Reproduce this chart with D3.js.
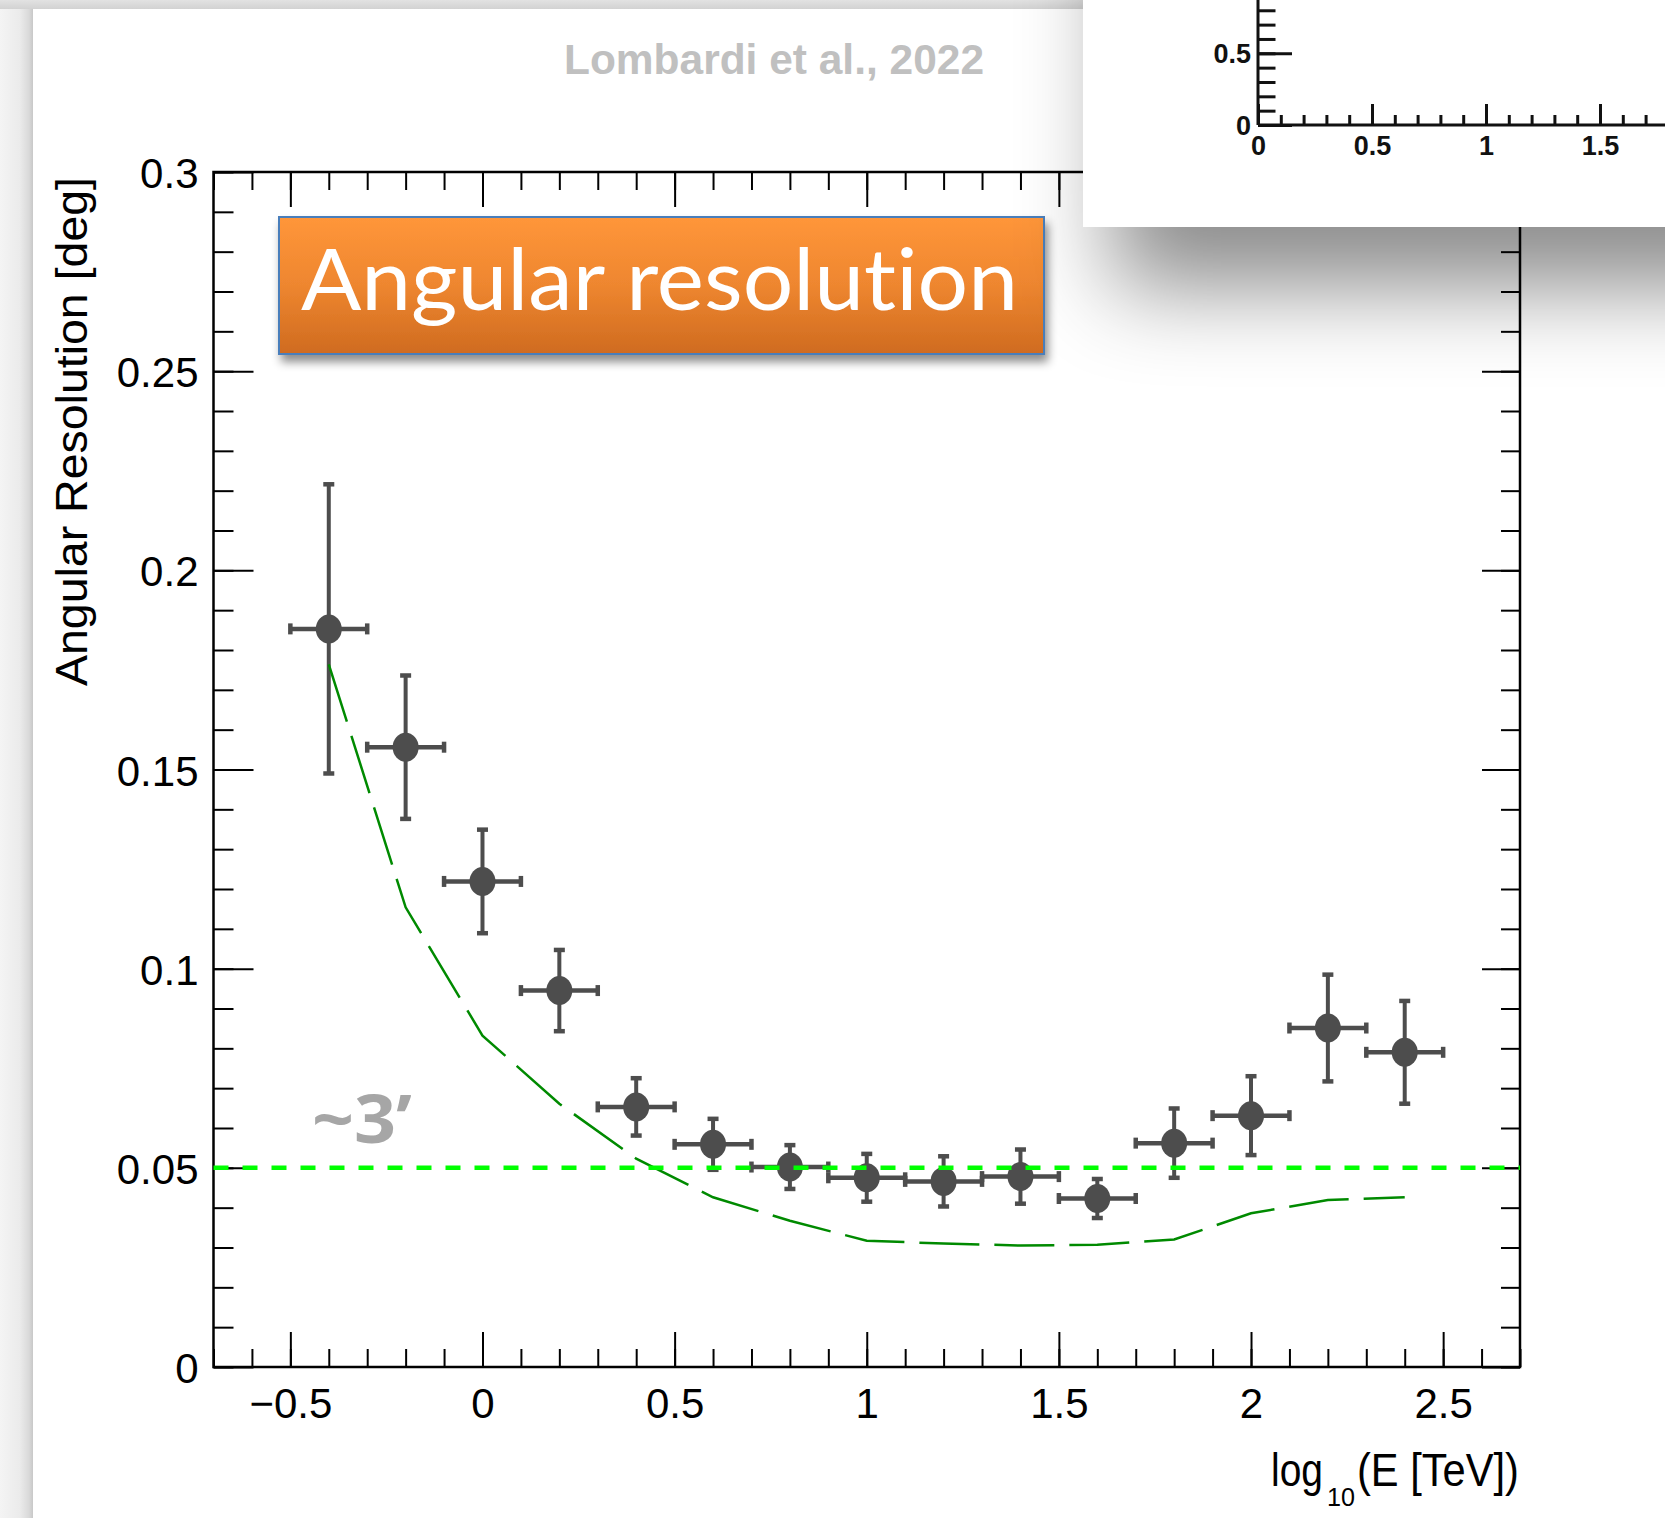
<!DOCTYPE html>
<html>
<head>
<meta charset="utf-8">
<script src="https://cdn.jsdelivr.net/npm/d3@7"></script>
<style>
  html, body { margin: 0; padding: 0; background: #fff; }
  svg { display: block; }
  .axis path.domain { display: none; }
  .axis line { stroke: #000; stroke-width: 2px; }
  .axis text { font-family: "Liberation Sans", Arial, sans-serif; fill: #000; }
  .inset .axis line { stroke: #111; stroke-width: 3px; }
  .inset .axis text { font-weight: bold; fill: #111; }
</style>
</head>
<body>
<div id="chart"></div>
<script>
//////////
// DATA //
//////////

// log10(E [TeV]) bin centres and half width
var energyBins = [-0.4, -0.2, 0, 0.2, 0.4, 0.6, 0.8, 1.0, 1.2, 1.4, 1.6, 1.8, 2.0, 2.2, 2.4];
var binHalfWidth = 0.1;

// measured angular resolution [deg] and its error
var angRes    = [0.1853, 0.1556, 0.1219, 0.0945, 0.0653, 0.0559, 0.0502, 0.0475, 0.0466, 0.0478, 0.0423, 0.0562, 0.0631, 0.0851, 0.0790];
var angResErr = [0.0363, 0.0180, 0.0130, 0.0102, 0.0072, 0.0064, 0.0055, 0.0060, 0.0063, 0.0068, 0.0049, 0.0087, 0.0099, 0.0134, 0.0129];

// dashed green reference curve
var refCurve = [0.1764, 0.1154, 0.0832, 0.0661, 0.0523, 0.0426, 0.0367, 0.0317, 0.0310, 0.0305, 0.0307, 0.0320, 0.0386, 0.0419, 0.0426];

// ~3 arcmin level
var threshold = 0.05;

var xMajorTicks = [-0.5, 0, 0.5, 1, 1.5, 2, 2.5];
var yMajorTicks = [0, 0.05, 0.1, 0.15, 0.2, 0.25, 0.3];

// the cut off plot pasted on top right
var insetXTicks = [0, 0.5, 1, 1.5];
var insetYTicks = [0, 0.5];

//////////////////////
// SVG AND GEOMETRY //
//////////////////////

var svgWidth = 1665, svgHeight = 1518;
var frame = { left: 213.5, right: 1520, top: 172, bottom: 1367 };

var svg = d3.select("#chart")
  .append("svg")
  .attr("width", svgWidth)
  .attr("height", svgHeight);

var defs = svg.append("defs");

var stripGrad = defs.append("linearGradient").attr("id", "stripGrad")
  .attr("x1", 0).attr("x2", 1).attr("y1", 0).attr("y2", 0);
stripGrad.append("stop").attr("offset", "0").attr("stop-color", "#f4f4f4");
stripGrad.append("stop").attr("offset", "0.6").attr("stop-color", "#ebebeb");
stripGrad.append("stop").attr("offset", "0.88").attr("stop-color", "#d9d9d9");
stripGrad.append("stop").attr("offset", "1").attr("stop-color", "#c8c8c8");

var topGrad = defs.append("linearGradient").attr("id", "topGrad")
  .attr("x1", 0).attr("x2", 0).attr("y1", 0).attr("y2", 1);
topGrad.append("stop").attr("offset", "0").attr("stop-color", "#e2e2e2");
topGrad.append("stop").attr("offset", "1").attr("stop-color", "#d2d2d2");

var boxGrad = defs.append("linearGradient").attr("id", "boxGrad")
  .attr("x1", 0).attr("x2", 0).attr("y1", 0).attr("y2", 1);
boxGrad.append("stop").attr("offset", "0").attr("stop-color", "#ff963a");
boxGrad.append("stop").attr("offset", "0.5").attr("stop-color", "#ee862f");
boxGrad.append("stop").attr("offset", "1").attr("stop-color", "#cf6b20");

defs.append("filter").attr("id", "boxShadow")
  .attr("x", "-10%").attr("y", "-20%").attr("width", "120%").attr("height", "150%")
  .append("feDropShadow")
  .attr("dx", 3).attr("dy", 7).attr("stdDeviation", 5)
  .attr("flood-color", "#000").attr("flood-opacity", 0.45);

defs.append("filter").attr("id", "insetShadow")
  .attr("filterUnits", "userSpaceOnUse")
  .attr("x", 800).attr("y", -200).attr("width", 1200).attr("height", 700)
  .append("feDropShadow")
  .attr("dx", 30).attr("dy", 60).attr("stdDeviation", 45)
  .attr("flood-color", "#000").attr("flood-opacity", 0.45);

////////////////
// BACKGROUND //
////////////////

svg.append("rect").attr("x", 0).attr("y", 0)
  .attr("width", svgWidth).attr("height", svgHeight).attr("fill", "#ffffff");
svg.append("rect").attr("x", 0).attr("y", 0)
  .attr("width", 33).attr("height", svgHeight).attr("fill", "url(#stripGrad)");
svg.append("rect").attr("x", 0).attr("y", 0)
  .attr("width", svgWidth).attr("height", 9).attr("fill", "url(#topGrad)");

svg.append("text")
  .attr("x", 564).attr("y", 74)
  .attr("textLength", 420).attr("lengthAdjust", "spacingAndGlyphs")
  .style("font-family", "'Liberation Sans', Arial, sans-serif")
  .style("font-weight", "bold").style("font-size", "43px")
  .style("fill", "#c0c0c0")
  .text("Lombardi et al., 2022");

//////////
// AXES //
//////////

var x = d3.scaleLinear().domain([-0.7, 2.7]).range([frame.left, frame.right]);
var y = d3.scaleLinear().domain([0, 0.3]).range([frame.bottom, frame.top]);

var xMinor = d3.range(-7, 28).map(function (i) { return i / 10; });
var yMinor = d3.range(0, 31).map(function (i) { return i / 100; });
var fmt = d3.format("~g");

var axes = svg.append("g").attr("class", "axes");

// minor ticks on all four sides
axes.append("g").attr("class", "axis")
  .attr("transform", "translate(" + frame.left + ",0)")
  .call(d3.axisLeft(y).tickValues(yMinor).tickSize(-20).tickSizeOuter(0).tickFormat(""));
axes.append("g").attr("class", "axis")
  .attr("transform", "translate(" + frame.right + ",0)")
  .call(d3.axisRight(y).tickValues(yMinor).tickSize(-19).tickSizeOuter(0).tickFormat(""));
axes.append("g").attr("class", "axis")
  .attr("transform", "translate(0," + frame.bottom + ")")
  .call(d3.axisBottom(x).tickValues(xMinor).tickSize(-18).tickSizeOuter(0).tickFormat(""));
axes.append("g").attr("class", "axis")
  .attr("transform", "translate(0," + frame.top + ")")
  .call(d3.axisTop(x).tickValues(xMinor).tickSize(-18).tickSizeOuter(0).tickFormat(""));

// major ticks with labels
var yAxis = axes.append("g").attr("class", "axis")
  .attr("transform", "translate(" + frame.left + ",0)")
  .call(d3.axisLeft(y).tickValues(yMajorTicks).tickSize(-40).tickSizeOuter(0)
    .tickPadding(15).tickFormat(fmt));
yAxis.selectAll("text").style("font-size", "42px").attr("dy", "0.37em");

axes.append("g").attr("class", "axis")
  .attr("transform", "translate(" + frame.right + ",0)")
  .call(d3.axisRight(y).tickValues(yMajorTicks).tickSize(-38).tickSizeOuter(0).tickFormat(""));

var xAxis = axes.append("g").attr("class", "axis")
  .attr("transform", "translate(0," + frame.bottom + ")")
  .call(d3.axisBottom(x).tickValues(xMajorTicks).tickSize(-35).tickSizeOuter(0)
    .tickPadding(21).tickFormat(fmt));
xAxis.selectAll("text").style("font-size", "42px");

axes.append("g").attr("class", "axis")
  .attr("transform", "translate(0," + frame.top + ")")
  .call(d3.axisTop(x).tickValues(xMajorTicks).tickSize(-35).tickSizeOuter(0).tickFormat(""));

svg.append("rect")
  .attr("x", frame.left).attr("y", frame.top)
  .attr("width", frame.right - frame.left).attr("height", frame.bottom - frame.top)
  .attr("fill", "none").attr("stroke", "#000").attr("stroke-width", 2.5);

//////////
// DATA //
//////////

var points = energyBins.map(function (e, i) {
  return { e: e, v: angRes[i], err: angResErr[i], ref: refCurve[i] };
});

var markColor = "#4d4d4d";
var gPts = svg.append("g").attr("class", "points");

// vertical error bars
gPts.selectAll(".vbar").data(points).enter().append("line")
  .attr("x1", function (d) { return x(d.e); })
  .attr("x2", function (d) { return x(d.e); })
  .attr("y1", function (d) { return y(d.v - d.err); })
  .attr("y2", function (d) { return y(d.v + d.err); })
  .attr("stroke", markColor).attr("stroke-width", 4);

// horizontal bin bars
gPts.selectAll(".hbar").data(points).enter().append("line")
  .attr("x1", function (d) { return x(d.e - binHalfWidth); })
  .attr("x2", function (d) { return x(d.e + binHalfWidth); })
  .attr("y1", function (d) { return y(d.v); })
  .attr("y2", function (d) { return y(d.v); })
  .attr("stroke", markColor).attr("stroke-width", 4.5);

// end caps
points.forEach(function (d) {
  [d.v - d.err, d.v + d.err].forEach(function (val) {
    gPts.append("rect")
      .attr("x", x(d.e) - 5.5).attr("y", y(val) - 2.25)
      .attr("width", 11).attr("height", 4.5).attr("fill", markColor);
  });
  [d.e - binHalfWidth, d.e + binHalfWidth].forEach(function (val) {
    gPts.append("rect")
      .attr("x", x(val) - 2.25).attr("y", y(d.v) - 5.5)
      .attr("width", 4.5).attr("height", 11).attr("fill", markColor);
  });
});

gPts.selectAll(".mark").data(points).enter().append("ellipse")
  .attr("cx", function (d) { return x(d.e); })
  .attr("cy", function (d) { return y(d.v); })
  .attr("rx", 13).attr("ry", 14.5)
  .attr("fill", markColor);

// reference curve
var line = d3.line()
  .x(function (d) { return x(d.e); })
  .y(function (d) { return y(d.ref); });

svg.append("path")
  .datum(points)
  .attr("d", line)
  .attr("fill", "none")
  .attr("stroke", "#008a00")
  .attr("stroke-width", 2.5)
  .attr("stroke-dasharray", "60,15");

// 0.05 deg level
svg.append("line")
  .attr("x1", x(-0.7)).attr("x2", x(2.7))
  .attr("y1", y(threshold)).attr("y2", y(threshold))
  .attr("stroke", "#00ff00")
  .attr("stroke-width", 4.5)
  .attr("stroke-dasharray", "15,14");

svg.append("text")
  .attr("x", 312).attr("y", 1143)
  .attr("textLength", 100).attr("lengthAdjust", "spacingAndGlyphs")
  .style("font-family", "'Open Sans', Lato, sans-serif")
  .style("font-weight", "bold").style("font-size", "66px")
  .style("fill", "#a6a6a6")
  .text("~3\u2019");

/////////////////
// AXIS TITLES //
/////////////////

svg.append("text")
  .attr("transform", "translate(87,177) rotate(-90)")
  .attr("text-anchor", "end")
  .attr("textLength", 509).attr("lengthAdjust", "spacingAndGlyphs")
  .style("font-family", "'Liberation Sans', Arial, sans-serif")
  .style("font-size", "44px")
  .text("Angular Resolution [deg]");

var xt = svg.append("g")
  .style("font-family", "'Liberation Sans', Arial, sans-serif");
xt.append("text")
  .attr("x", 1323).attr("y", 1486).attr("text-anchor", "end")
  .attr("textLength", 52).attr("lengthAdjust", "spacingAndGlyphs")
  .style("font-size", "46px").text("log");
xt.append("text")
  .attr("x", 1327).attr("y", 1506)
  .attr("textLength", 28).attr("lengthAdjust", "spacingAndGlyphs")
  .style("font-size", "26px").text("10");
xt.append("text")
  .attr("x", 1519).attr("y", 1486).attr("text-anchor", "end")
  .attr("textLength", 162).attr("lengthAdjust", "spacingAndGlyphs")
  .style("font-size", "46px").text("(E [TeV])");

/////////////////
// TITLE BOX   //
/////////////////

svg.append("rect")
  .attr("x", 279).attr("y", 217).attr("width", 765).attr("height", 137)
  .attr("fill", "url(#boxGrad)")
  .attr("stroke", "#4a7ebb").attr("stroke-width", 2)
  .attr("filter", "url(#boxShadow)");

svg.append("text")
  .attr("x", 301).attr("y", 310)
  .attr("textLength", 717).attr("lengthAdjust", "spacingAndGlyphs")
  .style("font-family", "Lato, 'Open Sans', sans-serif")
  .style("font-size", "86px")
  .style("font-variant-ligatures", "none")
  .style("fill", "#ffffff")
  .text("Angular resolution");

///////////
// INSET //
///////////

var inset = svg.append("g").attr("class", "inset");

inset.append("rect")
  .attr("x", 1083).attr("y", -200).attr("width", 800).attr("height", 427)
  .attr("fill", "#ffffff")
  .attr("filter", "url(#insetShadow)");

var ix = d3.scaleLinear().domain([0, 1.8]).range([1258, 1258 + 1.8 * 228]);
var iy = d3.scaleLinear().domain([0, 0.5]).range([125, 53.3]);

var ixMinor = d3.range(1, 19).map(function (i) { return i / 10; });
var iyMinor = d3.range(1, 9).map(function (i) { return i / 10; });

inset.append("g").attr("class", "axis")
  .attr("transform", "translate(0,125)")
  .call(d3.axisBottom(ix).tickValues(ixMinor).tickSize(-10).tickSizeOuter(0).tickFormat(""));
var ixAxis = inset.append("g").attr("class", "axis")
  .attr("transform", "translate(0,125)")
  .call(d3.axisBottom(ix).tickValues(insetXTicks).tickSize(-21).tickSizeOuter(0)
    .tickPadding(11).tickFormat(fmt));
ixAxis.selectAll("text").style("font-size", "27px");

inset.append("g").attr("class", "axis")
  .attr("transform", "translate(1258,0)")
  .call(d3.axisLeft(iy).tickValues(iyMinor).tickSize(-17.5).tickSizeOuter(0).tickFormat(""));
var iyAxis = inset.append("g").attr("class", "axis")
  .attr("transform", "translate(1258,0)")
  .call(d3.axisLeft(iy).tickValues(insetYTicks).tickSize(-34).tickSizeOuter(0)
    .tickPadding(7).tickFormat(fmt));
iyAxis.selectAll("text").style("font-size", "27px").attr("dy", "0.35em");

inset.append("line")
  .attr("x1", 1258).attr("x2", 1665).attr("y1", 125).attr("y2", 125)
  .attr("stroke", "#111").attr("stroke-width", 3);
inset.append("line")
  .attr("x1", 1258).attr("x2", 1258).attr("y1", 0).attr("y2", 125)
  .attr("stroke", "#111").attr("stroke-width", 3);
</script>
</body>
</html>
